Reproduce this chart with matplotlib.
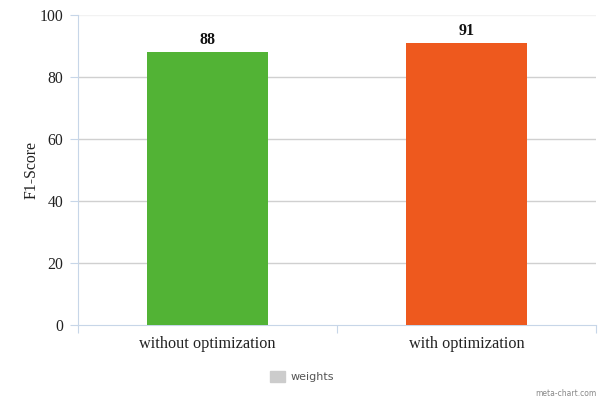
import matplotlib
matplotlib.use("Agg")
import matplotlib.pyplot as plt
from matplotlib.patches import Rectangle

categories = ["without optimization", "with optimization"]
scores = [88, 91]
bar_colors = ["#52b335", "#ee591e"]
y_ticks = [0, 20, 40, 60, 80, 100]
series_name = "weights"

serif = ["Liberation Serif", "DejaVu Serif"]
axis_blue = "#c7d6e8"

fig = plt.figure(figsize=(6.04, 4.03), dpi=100)
ax = fig.add_axes([78 / 604, 1 - 325 / 403, 518 / 604, 310 / 403])

x = list(range(len(categories)))
ax.bar(x, scores, width=0.47, color=bar_colors, zorder=3)
for xi, v in zip(x, scores):
    ax.text(xi, v + 1.2, f"{v}", ha="center", va="bottom", fontsize=11.5,
            fontweight="bold", family=serif, color="#111111", zorder=4)

ax.set_xlim(-0.5, len(categories) - 0.5)
ax.set_ylim(0, 100)

# horizontal grid
for t in y_ticks[1:-1]:
    ax.axhline(t, color="#d0d0d0", lw=1, zorder=1)
ax.axhline(100, color="#f2f2f2", lw=1, zorder=1)

for s in ["top", "right"]:
    ax.spines[s].set_visible(False)
ax.spines["left"].set_color(axis_blue)
ax.spines["bottom"].set_color(axis_blue)
ax.spines["left"].set_bounds(0, 100)

ax.set_yticks(y_ticks)
ax.set_yticklabels([str(t) for t in y_ticks], family=serif, fontsize=11.3, color="#222222")
ax.tick_params(axis="y", length=6, color=axis_blue, pad=4.5)

# category dividers as major ticks, labels on minor ticks
ax.set_xticks([i - 0.5 for i in range(len(categories) + 1)])
ax.set_xticklabels([])
ax.tick_params(axis="x", which="major", length=6, color=axis_blue)
ax.set_xticks(x, minor=True)
ax.set_xticklabels(categories, minor=True, family=serif, fontsize=11.7, color="#222222")
ax.tick_params(axis="x", which="minor", length=0, pad=8)

ax.set_ylabel("F1-Score", family=serif, fontsize=11.3, color="#222222")
ax.yaxis.set_label_coords((40 - 78) / 518, 0.5)

# legend
fig.patches.append(Rectangle((270 / 604, 1 - 382 / 403), 15 / 604, 11 / 403,
                             transform=fig.transFigure, color="#cccccc"))
fig.text(291 / 604, 1 - 376.5 / 403, series_name, fontsize=8, color="#555555",
         va="center", ha="left", family="DejaVu Sans")

fig.text(597 / 604, 1 - 393 / 403, "meta-chart.com", fontsize=5.5, color="#888888",
         ha="right", va="center")

fig.savefig("out.png", dpi=100, facecolor="white")
